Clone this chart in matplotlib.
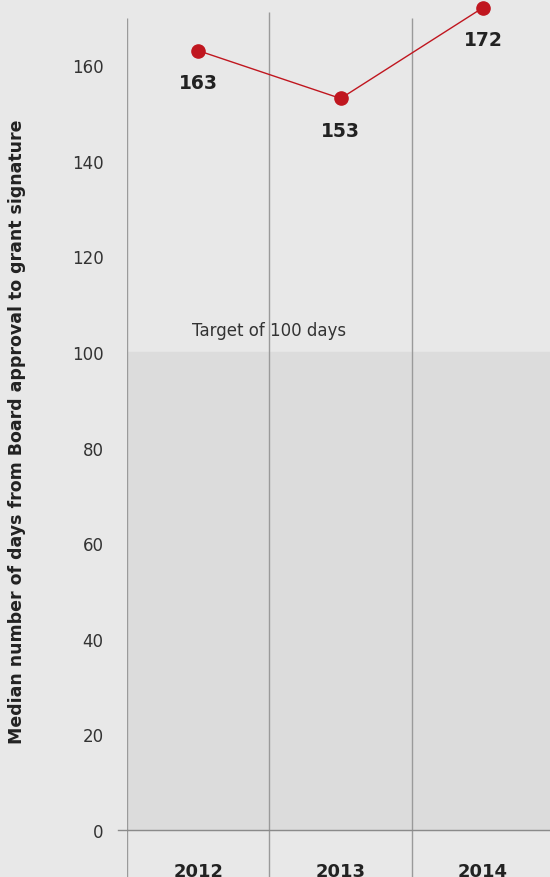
import matplotlib
matplotlib.use("Agg")
import matplotlib.pyplot as plt

# Data
years = ["2012", "2013", "2014"]
median_days = [163, 153, 172]
target_days = 100
yticks = [0, 20, 40, 60, 80, 100, 120, 140, 160]

plt.rcParams['font.family'] = ['DejaVu Sans']

bg = "#e8e8e8"
fig = plt.figure(figsize=(5.5, 8.78), dpi=100, facecolor=bg)
ax = fig.add_axes([127/550, 0, 1 - 127/550, 1])
ax.set_facecolor(bg)

x = list(range(len(years)))
ax.set_xlim(-0.5, 2.47)
ax.set_ylim(-9.8, 173.8)

# shaded target zone
ax.axhspan(0, target_days, color="#dcdcdc", zorder=0)
ax.text(0.5, target_days + 4.6, "Target of 100 days", ha="center", va="center",
        fontsize=12, color="#333333")

# column separators
ax.vlines([-0.5, 1.5], -10, 169.9, color="#9a9a9a", lw=1, zorder=1)
ax.vlines([0.5], -10, 171.1, color="#9a9a9a", lw=1, zorder=1)
ax.axhline(0, color="#8a8a8a", lw=1, zorder=1)

# line
ax.plot(x, median_days, color="#c0161f", lw=1, marker="o", ms=9.5, zorder=3, clip_on=False)
for xi, v in zip(x, median_days):
    ax.annotate(str(v), (xi, v), xytext=(0, -23), textcoords="offset points",
                ha="center", va="center", fontsize=13.5, fontweight="bold", color="#222222")

# year labels
for xi, yr in zip(x, years):
    ax.text(xi, -8.5, yr, ha="center", va="center", fontsize=13,
            fontweight="bold", color="#222222")

for s in ax.spines.values():
    s.set_visible(False)
ax.set_xticks([])
ax.set_yticks(yticks)
ax.set_yticklabels([str(t) for t in yticks], fontsize=12, color="#333333")
ax.tick_params(axis="y", length=0, pad=17)

# small tick mark at zero
ax.plot([-0.565, -0.5], [0, 0], color="#8a8a8a", lw=1, clip_on=False)

fig.text(17/550, 1 - 432/878, "Median number of days from Board approval to grant signature",
         rotation=90, ha="center", va="center", fontsize=12.5, fontweight="bold",
         color="#222222")

fig.savefig("out.png", dpi=100, facecolor=bg)
